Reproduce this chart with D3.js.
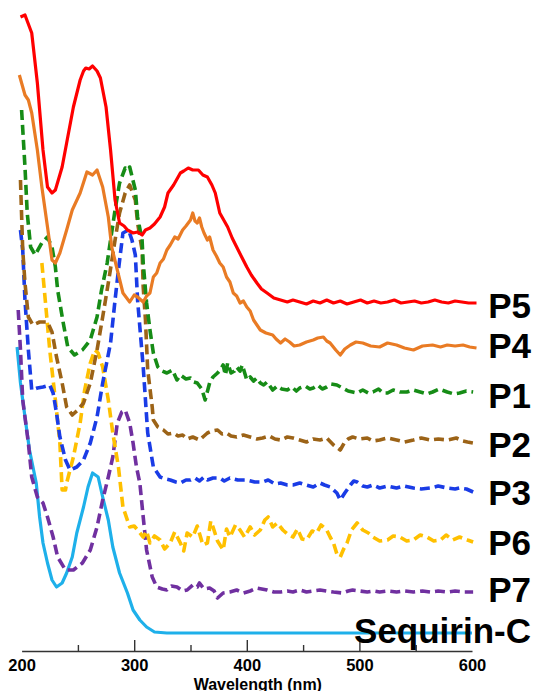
<!DOCTYPE html>
<html>
<head>
<meta charset="utf-8">
<script src="https://cdn.jsdelivr.net/npm/d3@7"></script>
<style>
body { margin: 0; background: #fff; }
svg text { font-family: "Liberation Sans", Arial, sans-serif; font-weight: bold; fill: #000; }
</style>
</head>
<body>
<div id="chart"></div>
<script>
// absorbance traces (stacked, arbitrary units)
var seriesNames = ["P5", "P4", "P1", "P2", "P3", "P6", "P7", "Sequirin-C"];

var p5 = [[199, 6.34], [203, 6.36], [209, 6.18], [214, 5.68], [219, 5.01], [223, 4.64], [227, 4.58],
	[230, 4.61], [236, 4.84], [240, 5.08], [246, 5.44], [252, 5.71], [255, 5.80], [257, 5.83], [260, 5.82],
	[263, 5.85], [267, 5.80], [270, 5.73], [275, 5.44], [279, 5.01], [283, 4.51], [287, 4.28], [291, 4.25],
	[294, 4.21], [299, 4.18], [303, 4.19], [307, 4.16], [310, 4.21], [314, 4.23], [318, 4.27], [323, 4.34],
	[327, 4.44], [330, 4.58], [335, 4.66], [341, 4.78], [344, 4.80], [348, 4.83], [352, 4.81], [357, 4.81],
	[361, 4.76], [365, 4.74], [369, 4.66], [372, 4.58], [376, 4.38], [380, 4.30], [383, 4.24], [387, 4.13],
	[391, 4.04], [395, 3.95], [400, 3.84], [404, 3.76], [409, 3.68], [413, 3.62], [418, 3.58], [424, 3.53],
	[430, 3.51], [436, 3.49], [441, 3.51], [447, 3.49], [453, 3.47], [459, 3.50], [465, 3.48], [471, 3.51],
	[477, 3.48], [483, 3.50], [489, 3.47], [495, 3.49], [501, 3.51], [507, 3.48], [513, 3.50], [519, 3.48],
	[525, 3.49], [531, 3.51], [537, 3.48], [543, 3.49], [549, 3.50], [555, 3.48], [561, 3.49], [567, 3.51],
	[573, 3.49], [579, 3.48], [585, 3.50], [591, 3.49], [597, 3.48], [604, 3.48]];

var p4 = [[198, 5.76], [203, 5.56], [206, 5.51], [209, 5.38], [214, 5.01], [218, 4.64], [223, 4.24],
	[227, 3.91], [230, 3.88], [234, 3.98], [240, 4.21], [245, 4.41], [252, 4.58], [258, 4.79], [263, 4.76],
	[267, 4.81], [272, 4.64], [277, 4.34], [280, 4.04], [285, 3.81], [290, 3.58], [296, 3.49], [300, 3.56],
	[303, 3.54], [308, 3.49], [311, 3.55], [314, 3.58], [317, 3.74], [320, 3.78], [323, 3.88], [326, 3.92],
	[329, 4.01], [332, 4.06], [336, 4.14], [339, 4.12], [343, 4.21], [346, 4.25], [350, 4.31], [352, 4.38],
	[354, 4.30], [356, 4.28], [358, 4.33], [360, 4.24], [362, 4.18], [365, 4.11], [367, 4.14], [370, 4.01],
	[373, 3.95], [376, 3.88], [379, 3.84], [382, 3.74], [385, 3.69], [388, 3.58], [391, 3.55], [394, 3.48],
	[397, 3.50], [400, 3.44], [403, 3.40], [406, 3.31], [409, 3.26], [412, 3.21], [417, 3.18], [423, 3.16],
	[426, 3.12], [430, 3.08], [434, 3.12], [438, 3.09], [442, 3.05], [447, 3.06], [453, 3.09], [459, 3.11],
	[463, 3.13], [468, 3.14], [471, 3.10], [474, 3.08], [479, 3.01], [483, 2.96], [487, 3.02], [492, 3.06],
	[497, 3.09], [503, 3.08], [510, 3.05], [518, 3.04], [525, 3.08], [533, 3.06], [540, 3.03], [548, 3.01],
	[556, 3.05], [565, 3.06], [572, 3.04], [578, 3.06], [585, 3.05], [592, 3.06], [598, 3.04], [604, 3.03]];

var p1 = [[200, 5.41], [203, 4.84], [205, 4.38], [208, 4.04], [212, 3.96], [218, 4.08], [223, 4.14],
	[227, 4.04], [230, 3.84], [232, 3.61], [237, 3.28], [241, 3.04], [247, 2.96], [254, 3.01], [261, 3.11],
	[267, 3.34], [271, 3.61], [276, 3.88], [279, 4.11], [283, 4.41], [287, 4.68], [292, 4.83], [295, 4.81],
	[296, 4.84], [301, 4.61], [303, 4.34], [307, 4.11], [308, 3.88], [311, 3.48], [314, 3.21], [317, 2.98],
	[321, 2.84], [325, 2.80], [329, 2.78], [334, 2.81], [338, 2.71], [341, 2.76], [346, 2.72], [350, 2.73],
	[353, 2.69], [356, 2.68], [360, 2.62], [363, 2.51], [367, 2.68], [370, 2.74], [374, 2.78], [377, 2.82],
	[379, 2.86], [381, 2.76], [383, 2.88], [386, 2.78], [389, 2.80], [391, 2.84], [394, 2.80], [396, 2.86],
	[400, 2.71], [403, 2.74], [406, 2.70], [409, 2.73], [412, 2.68], [415, 2.66], [418, 2.69], [423, 2.61],
	[427, 2.65], [431, 2.62], [436, 2.61], [440, 2.64], [444, 2.60], [447, 2.63], [452, 2.65], [456, 2.62],
	[459, 2.63], [463, 2.66], [467, 2.62], [471, 2.64], [475, 2.67], [480, 2.66], [485, 2.63], [490, 2.60],
	[494, 2.59], [498, 2.58], [503, 2.61], [508, 2.58], [512, 2.59], [517, 2.62], [521, 2.58], [525, 2.58],
	[530, 2.61], [536, 2.59], [542, 2.59], [548, 2.61], [554, 2.59], [560, 2.57], [565, 2.59], [571, 2.62],
	[578, 2.59], [584, 2.57], [589, 2.58], [595, 2.60], [601, 2.59]];

var p2 = [[199, 4.71], [201, 4.01], [203, 3.68], [206, 3.34], [210, 3.26], [216, 3.29], [223, 3.29],
	[227, 3.19], [231, 2.94], [236, 2.68], [240, 2.44], [245, 2.36], [250, 2.41], [255, 2.48], [261, 2.68],
	[267, 3.01], [272, 3.34], [277, 3.68], [283, 4.11], [287, 4.38], [292, 4.58], [296, 4.66], [301, 4.51],
	[303, 4.28], [307, 4.01], [308, 3.64], [310, 3.31], [312, 2.81], [316, 2.44], [317, 2.31], [321, 2.24],
	[326, 2.21], [330, 2.17], [335, 2.18], [339, 2.15], [343, 2.16], [347, 2.12], [352, 2.14], [358, 2.11],
	[362, 2.15], [365, 2.18], [369, 2.20], [374, 2.21], [378, 2.17], [382, 2.18], [386, 2.15], [391, 2.14],
	[397, 2.16], [403, 2.14], [409, 2.12], [414, 2.13], [420, 2.15], [425, 2.12], [430, 2.11], [436, 2.14],
	[441, 2.13], [447, 2.11], [453, 2.09], [459, 2.12], [465, 2.11], [471, 2.13], [477, 2.06], [483, 2.01],
	[487, 2.09], [490, 2.12], [494, 2.14], [500, 2.12], [507, 2.13], [512, 2.10], [518, 2.11], [525, 2.13],
	[533, 2.11], [540, 2.09], [548, 2.11], [555, 2.13], [563, 2.11], [570, 2.12], [578, 2.11], [586, 2.13],
	[592, 2.10], [596, 2.09], [601, 2.08]];

var p3 = [[199, 4.21], [201, 4.01], [203, 3.51], [206, 3.01], [209, 2.61], [214, 2.63], [219, 2.64],
	[225, 2.66], [228, 2.58], [231, 2.38], [234, 2.14], [239, 1.91], [243, 1.81], [249, 1.84], [255, 1.91],
	[261, 2.08], [267, 2.34], [272, 2.68], [279, 3.08], [283, 3.51], [286, 3.81], [290, 4.18], [295, 4.21],
	[298, 4.11], [301, 3.96], [303, 3.51], [308, 2.84], [312, 2.18], [317, 1.84], [323, 1.74], [328, 1.72],
	[332, 1.71], [337, 1.69], [341, 1.68], [346, 1.71], [350, 1.71], [354, 1.73], [358, 1.70], [362, 1.74],
	[365, 1.71], [370, 1.73], [376, 1.73], [380, 1.70], [385, 1.73], [392, 1.71], [400, 1.71], [407, 1.69],
	[414, 1.69], [419, 1.71], [425, 1.67], [430, 1.68], [436, 1.66], [441, 1.66], [447, 1.68], [453, 1.66],
	[459, 1.64], [465, 1.68], [469, 1.66], [474, 1.64], [480, 1.58], [483, 1.51], [487, 1.58], [492, 1.66],
	[495, 1.70], [498, 1.69], [503, 1.65], [507, 1.64], [512, 1.66], [518, 1.63], [525, 1.65], [533, 1.63],
	[540, 1.65], [548, 1.63], [555, 1.62], [563, 1.63], [570, 1.65], [578, 1.63], [585, 1.62], [589, 1.63],
	[595, 1.62], [601, 1.59]];

var p6 = [[218, 3.88], [221, 3.51], [225, 3.01], [230, 2.51], [234, 2.08], [236, 1.61], [239, 1.61],
	[240, 1.68], [243, 1.81], [246, 1.94], [252, 2.28], [256, 2.61], [261, 2.88], [265, 3.01], [268, 2.98],
	[272, 2.84], [277, 2.51], [281, 2.18], [286, 1.84], [290, 1.44], [296, 1.24], [300, 1.25], [303, 1.21],
	[308, 1.14], [311, 1.20], [314, 1.08], [318, 1.15], [323, 1.11], [327, 1.02], [332, 1.08], [336, 1.19],
	[341, 1.08], [344, 1.00], [347, 1.18], [352, 1.14], [356, 1.25], [361, 1.06], [365, 1.08], [368, 1.30],
	[370, 1.24], [374, 1.10], [379, 1.01], [382, 1.22], [385, 1.14], [390, 1.26], [394, 1.21], [398, 1.14],
	[403, 1.24], [407, 1.16], [412, 1.21], [416, 1.31], [419, 1.34], [423, 1.24], [427, 1.28], [432, 1.21],
	[436, 1.17], [441, 1.14], [445, 1.22], [449, 1.12], [453, 1.11], [458, 1.20], [462, 1.18], [466, 1.26],
	[471, 1.21], [474, 1.14], [477, 1.08], [480, 0.97], [483, 0.94], [486, 1.02], [489, 1.08], [493, 1.21],
	[498, 1.28], [503, 1.21], [508, 1.18], [512, 1.14], [518, 1.10], [525, 1.11], [530, 1.15], [536, 1.14],
	[542, 1.10], [548, 1.11], [554, 1.16], [560, 1.14], [566, 1.10], [572, 1.11], [577, 1.16], [583, 1.11],
	[589, 1.14], [596, 1.11], [601, 1.09]];

var p7 = [[197, 3.41], [199, 3.01], [201, 2.51], [206, 2.08], [209, 1.74], [214, 1.54], [219, 1.48],
	[223, 1.34], [228, 1.14], [232, 0.94], [239, 0.81], [246, 0.81], [254, 0.88], [261, 1.01], [267, 1.24],
	[272, 1.51], [277, 1.74], [281, 1.94], [285, 2.28], [289, 2.39], [292, 2.41], [296, 2.28], [299, 2.08],
	[302, 1.84], [305, 1.68], [308, 1.34], [311, 1.01], [316, 0.74], [320, 0.64], [325, 0.62], [329, 0.61],
	[333, 0.65], [338, 0.64], [343, 0.60], [347, 0.61], [352, 0.66], [356, 0.64], [358, 0.68], [362, 0.62],
	[367, 0.63], [371, 0.60], [374, 0.53], [379, 0.58], [385, 0.59], [391, 0.61], [397, 0.58], [403, 0.60],
	[409, 0.63], [418, 0.61], [424, 0.59], [430, 0.59], [436, 0.60], [441, 0.59], [447, 0.61], [453, 0.59],
	[459, 0.60], [465, 0.61], [471, 0.60], [477, 0.59], [485, 0.58], [490, 0.60], [494, 0.61], [500, 0.60],
	[507, 0.59], [513, 0.60], [518, 0.59], [525, 0.60], [533, 0.59], [540, 0.60], [548, 0.59], [556, 0.60],
	[563, 0.59], [570, 0.60], [578, 0.59], [585, 0.60], [593, 0.59], [601, 0.59]];

var sequirinC = [[196, 3.04], [199, 2.68], [203, 2.34], [207, 2.01], [213, 1.68], [216, 1.34], [219, 1.08],
	[223, 0.88], [227, 0.71], [231, 0.64], [236, 0.68], [240, 0.78], [245, 0.94], [249, 1.18], [255, 1.44],
	[259, 1.64], [263, 1.78], [268, 1.74], [272, 1.54], [277, 1.31], [281, 1.04], [287, 0.78], [294, 0.58],
	[299, 0.41], [305, 0.31], [311, 0.24], [318, 0.19], [329, 0.18], [360, 0.18], [400, 0.18], [450, 0.18],
	[500, 0.18], [550, 0.18], [600, 0.18]];

var majorTicks = [200, 300, 400, 500, 600];
var minorTicks = [250, 350, 450, 550];
var xTitle = "Wavelength (nm)";

// styles
var allSeries = [p5, p4, p1, p2, p3, p6, p7, sequirinC];
var colors = ["#FF0000", "#E97B24", "#168C16", "#9C6317", "#1A3CE6", "#FFC000", "#7030A0", "#1EB0EA"];
var dashed = [false, false, true, true, true, true, true, false];
var labelDy = [15, 10, 16, 14, 13, 13, 10, 10];

var w = 533;
var h = 691;
var axisY = 651;

var xScale = d3.scaleLinear().domain([200, 600]).range([21.6, 472]);
var yScale = d3.scaleLinear().domain([0, 6.51]).range([axisY, 0]);

var svg = d3.select("#chart").append("svg").attr("width", w).attr("height", h);

var line = d3.line()
	.x(function (d) { return xScale(d[0]); })
	.y(function (d) { return yScale(d[1]); });

var order = d3.range(allSeries.length).reverse();

svg.selectAll("path.trace")
	.data(order)
	.enter()
	.append("path")
	.attr("class", "trace")
	.attr("d", function (i) { return line(allSeries[i]); })
	.attr("fill", "none")
	.attr("stroke", function (i) { return colors[i]; })
	.attr("stroke-width", function (i) { return dashed[i] ? 3.6 : 3.2; })
	.attr("stroke-linejoin", "round")
	.attr("stroke-dasharray", function (i) { return dashed[i] ? "10,5" : null; });

// x axis, ticks pointing up
var xAxis = d3.axisBottom(xScale)
	.tickValues(majorTicks)
	.tickFormat(d3.format("d"))
	.tickSizeInner(-11)
	.tickSizeOuter(0)
	.tickPadding(8);

var gx = svg.append("g")
	.attr("transform", "translate(0," + axisY + ")")
	.call(xAxis);

gx.select(".domain").attr("stroke", "#333").attr("stroke-width", 1.4);
gx.selectAll(".tick line").attr("stroke", "#333").attr("stroke-width", 1.4)
	.filter(function (d) { return d === 200 || d === 600; }).remove();
gx.selectAll(".tick text").attr("font-size", 16.5).attr("fill", "#000");

var gm = svg.append("g")
	.attr("transform", "translate(0," + axisY + ")")
	.call(d3.axisBottom(xScale).tickValues(minorTicks).tickFormat("").tickSizeInner(-6).tickSizeOuter(0));

gm.select(".domain").remove();
gm.selectAll(".tick line").attr("stroke", "#333").attr("stroke-width", 1.4);

svg.append("text")
	.attr("x", xScale(400) + 11)
	.attr("y", 689.5)
	.attr("text-anchor", "middle")
	.attr("font-size", 16)
	.text(xTitle);

// series labels at the right end of each trace
svg.selectAll("text.label")
	.data(seriesNames)
	.enter()
	.append("text")
	.attr("class", "label")
	.attr("x", 531)
	.attr("y", function (d, i) {
		var s = allSeries[i];
		return yScale(s[s.length - 1][1]) + labelDy[i];
	})
	.attr("text-anchor", "end")
	.attr("font-size", 35)
	.text(function (d) { return d; });
</script>
</body>
</html>
